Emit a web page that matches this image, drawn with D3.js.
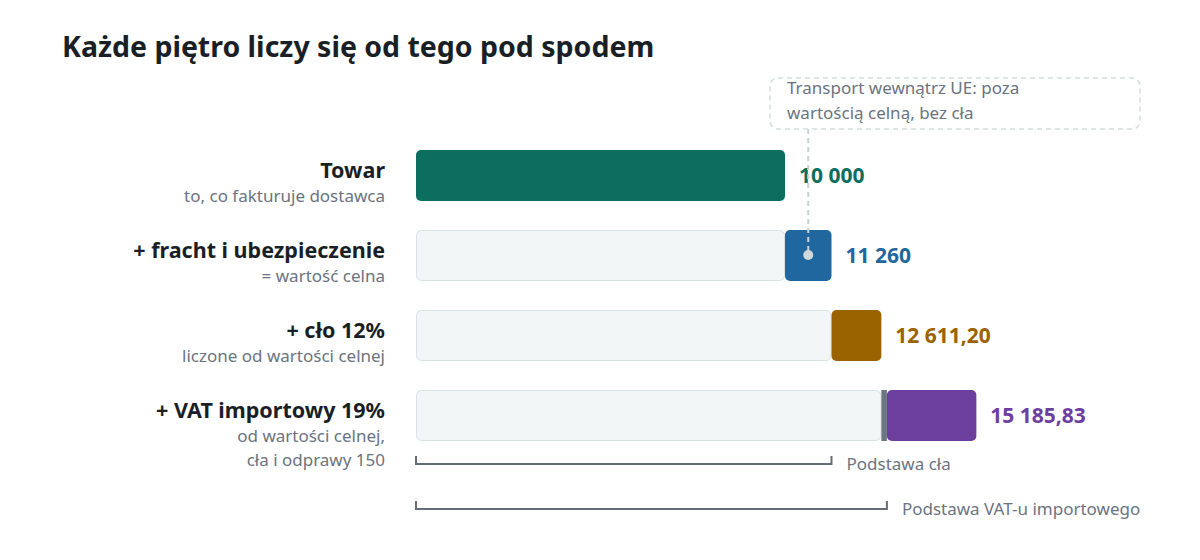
<!DOCTYPE html>
<html>
<head>
<meta charset="utf-8">
<script src="https://cdn.jsdelivr.net/npm/d3@7"></script>
<style>
  body { margin: 0; background: #fff; }
  svg { font-family: "Noto Sans", "Open Sans", sans-serif; }
</style>
</head>
<body>
<div id="chart"></div>
<script>
// Data
var rowLabels = ["Towar", "+ fracht i ubezpieczenie", "+ cło 12%", "+ VAT importowy 19%"];
var rowNotes = [
  ["to, co fakturuje dostawca"],
  ["= wartość celna"],
  ["liczone od wartości celnej"],
  ["od wartości celnej,", "cła i odprawy 150"]
];
var totals = [10000, 11260, 12611.20, 15185.83];
var clearance = [0, 0, 0, 150];           // odprawa, added before VAT
var rowColors = ["#0b6e5e", "#1f679e", "#9b6200", "#6c3f9f"];
var brackets = [
  { label: "Podstawa cła", to: 11260 },
  { label: "Podstawa VAT-u importowego", to: 12761.20 }
];
var note = ["Transport wewnątrz UE: poza", "wartością celną, bez cła"];

var width = 1200, height = 560;
var svg = d3.select("#chart").append("svg")
  .attr("width", width).attr("height", height);

var pl = d3.formatLocale({ decimal: ",", thousands: "\u00a0", grouping: [3], currency: ["", " zł"] });
var fmtInt = pl.format(",.0f"), fmtDec = pl.format(",.2f");
function fmt(v) { return Number.isInteger(v) ? fmtInt(v) : fmtDec(v); }

var x = d3.scaleLinear().domain([0, 10000]).range([416, 785]);
var y = d3.scaleLinear().domain([0, 1]).range([150, 230]); // 80px per row
var barH = 51;

svg.append("text")
  .attr("x", 62).attr("y", 57)
  .attr("font-size", 28.5).attr("font-weight", 700).attr("fill", "#1a1f26")
  .text("Każde piętro liczy się od tego pod spodem");

var rows = svg.selectAll("g.row").data(totals).enter().append("g").attr("class", "row");

rows.each(function (total, i) {
  var g = d3.select(this);
  var prev = i === 0 ? 0 : totals[i - 1];
  var top = y(i);

  // ghost bar: what was already there
  if (i > 0) {
    g.append("rect")
      .attr("x", x(0) + 0.5).attr("y", top + 0.5)
      .attr("width", x(prev) - x(0) - 1).attr("height", barH - 1)
      .attr("rx", 5)
      .attr("fill", "#f2f6f7").attr("stroke", "#d9e1e4");
  }
  var start = prev;
  if (clearance[i] > 0) {
    g.append("rect")
      .attr("x", x(prev)).attr("y", top)
      .attr("width", x(prev + clearance[i]) - x(prev)).attr("height", barH)
      .attr("fill", "#6b7780");
    start = prev + clearance[i];
  }
  g.append("rect")
    .attr("x", x(start)).attr("y", top)
    .attr("width", x(total) - x(start)).attr("height", barH)
    .attr("rx", 5)
    .attr("fill", rowColors[i]);

  g.append("text")
    .attr("x", x(total) + 14).attr("y", top + barH / 2 + 7.5)
    .attr("font-size", 21).attr("font-weight", 700).attr("fill", rowColors[i])
    .text(fmt(total));

  g.append("text")
    .attr("x", 385).attr("y", top + 28).attr("text-anchor", "end")
    .attr("font-size", 21.5).attr("font-weight", 700).attr("fill", "#1a1f26")
    .text(rowLabels[i]);
  rowNotes[i].forEach(function (t, j) {
    g.append("text")
      .attr("x", 385).attr("y", top + 52 + j * 24).attr("text-anchor", "end")
      .attr("font-size", 17).attr("fill", "#6b7380")
      .text(t);
  });
});

// brackets under the last row
brackets.forEach(function (b, k) {
  var by = 464 + k * 45;
  svg.append("path")
    .attr("d", "M" + x(0) + "," + (by - 8) + "V" + by + "H" + x(b.to) + "V" + (by - 8))
    .attr("fill", "none").attr("stroke", "#666d74").attr("stroke-width", 2);
  svg.append("text")
    .attr("x", x(b.to) + 15).attr("y", by + 6)
    .attr("font-size", 17).attr("fill", "#6b7380")
    .text(b.label);
});

// annotation for the freight segment
var ax = (x(10000) + x(11260)) / 2;
svg.append("rect")
  .attr("x", 770).attr("y", 78).attr("width", 370).attr("height", 51).attr("rx", 8)
  .attr("fill", "#fff").attr("stroke", "#d5dbdf").attr("stroke-width", 1.5)
  .attr("stroke-dasharray", "5,4");
note.forEach(function (t, j) {
  svg.append("text")
    .attr("x", 787).attr("y", 94 + j * 25)
    .attr("font-size", 17).attr("fill", "#6b7380")
    .text(t);
});
svg.append("line")
  .attr("x1", ax).attr("x2", ax).attr("y1", 129).attr("y2", y(1) + 25)
  .attr("stroke", "#c9d2d6").attr("stroke-width", 2).attr("stroke-dasharray", "5,4");
svg.append("circle")
  .attr("cx", ax).attr("cy", y(1) + 25).attr("r", 5)
  .attr("fill", "#d3d8dc");
</script>
</body>
</html>
